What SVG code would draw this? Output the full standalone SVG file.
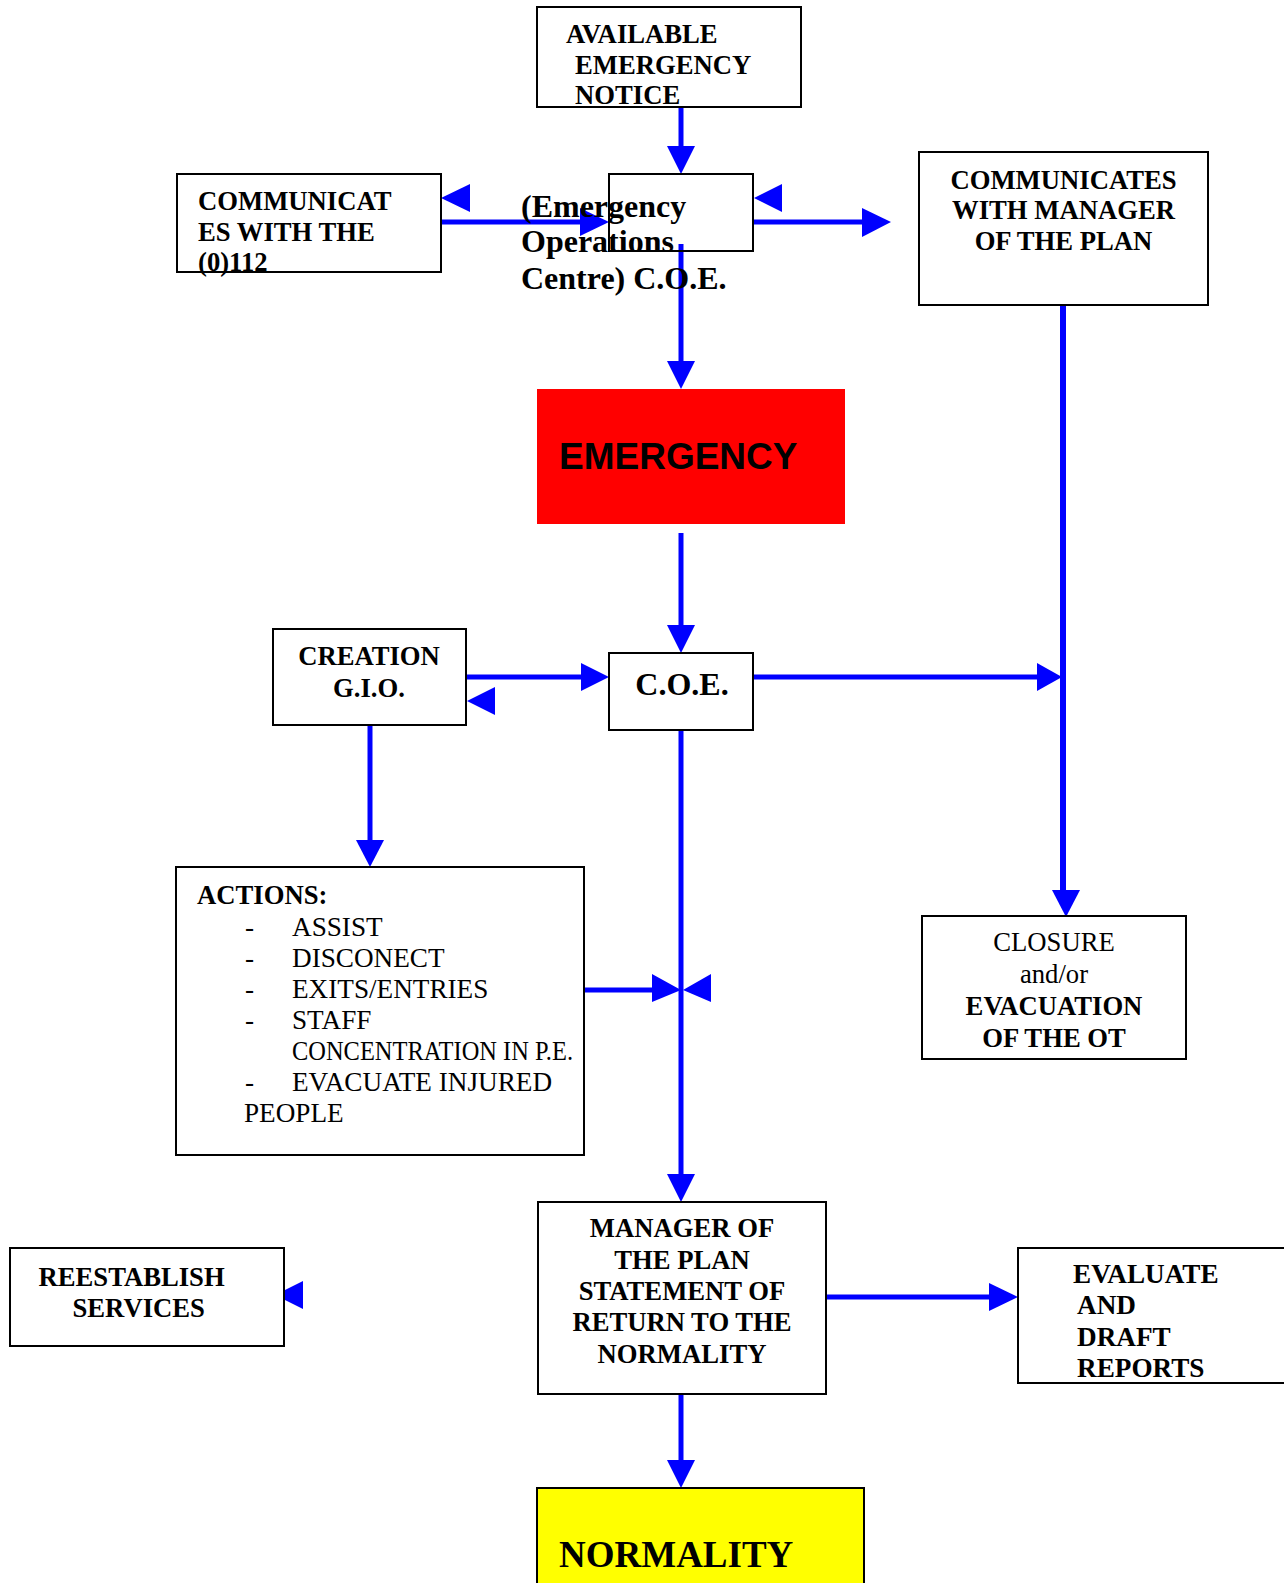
<svg xmlns="http://www.w3.org/2000/svg" width="1284" height="1583" viewBox="0 0 1284 1583">
<style>
.box{fill:#fff;stroke:#000;stroke-width:2}
.t{font-family:"Liberation Serif","Times New Roman",serif;font-size:26.67px;fill:#000}
.r{font-size:27.2px}
.b{font-weight:bold}
.ln{stroke:#0000ff;stroke-width:5;fill:none}
.ah{fill:#0000ff}
</style>
<rect width="1284" height="1583" fill="#fff"/>
<g id="connectors">
<line class="ln" x1="681" y1="104" x2="681" y2="148"/>
<polygon class="ah" points="667,146 695,146 681,174"/>
<line class="ln" x1="441" y1="222" x2="583" y2="222"/>
<polygon class="ah" points="580,208 580,236 609,222"/>
<polygon class="ah" points="470,184 470,212 441,198"/>
<polygon class="ah" points="782,184 782,212 754,198"/>
<line class="ln" x1="753" y1="222" x2="865" y2="222"/>
<polygon class="ah" points="862,208 862,237 891,222"/>
<line class="ln" x1="681" y1="244" x2="681" y2="363"/>
<polygon class="ah" points="667,361 695,361 681,389"/>
<line class="ln" x1="681" y1="533" x2="681" y2="627"/>
<polygon class="ah" points="667,625 695,625 681,653"/>
<line class="ln" x1="466" y1="677" x2="583" y2="677"/>
<polygon class="ah" points="581,663 581,691 609,677"/>
<polygon class="ah" points="495,687 495,715 467,701"/>
<line class="ln" x1="753" y1="677" x2="1040" y2="677"/>
<polygon class="ah" points="1037,663 1037,691 1062,677"/>
<line class="ln" x1="1063" y1="305" x2="1063" y2="892" style="stroke-width:6"/>
<polygon class="ah" points="1052,890 1080,890 1066,917"/>
<line class="ln" x1="370" y1="725" x2="370" y2="842"/>
<polygon class="ah" points="356,840 384,840 370,867"/>
<line class="ln" x1="681" y1="730" x2="681" y2="1176"/>
<polygon class="ah" points="667,1174 695,1174 681,1202"/>
<line class="ln" x1="584" y1="990" x2="654" y2="990"/>
<polygon class="ah" points="652,974 652,1002 681,990"/>
<polygon class="ah" points="711,974 711,1002 683,990"/>
<polygon class="ah" points="303,1281 303,1309 275,1295"/>
<line class="ln" x1="826" y1="1297" x2="992" y2="1297"/>
<polygon class="ah" points="989,1283 989,1311 1018,1297"/>
<line class="ln" x1="681" y1="1394" x2="681" y2="1462"/>
<polygon class="ah" points="667,1460 695,1460 681,1488"/>
</g>
<g id="available">
<rect class="box" x="537" y="7" width="264" height="100"/>
<text class="t b" x="566" y="43">AVAILABLE</text>
<text class="t b" x="575" y="74">EMERGENCY</text>
<text class="t b" x="575" y="104">NOTICE</text>
</g>
<g id="communicat112">
<rect class="box" x="177" y="174" width="264" height="98"/>
<text class="t b" x="198" y="210">COMMUNICAT</text>
<text class="t b" x="198" y="241">ES WITH THE</text>
<text class="t b" x="198" y="271">(0)112</text>
</g>
<g id="coe-top">
<rect class="box" x="609" y="174" width="144" height="77" style="fill:none"/>
<text class="t b" x="521" y="217" style="font-size:32px">(Emergency</text>
<text class="t b" x="521" y="252" style="font-size:32px">Operations</text>
<text class="t b" x="521" y="289" style="font-size:32px">Centre) C.O.E.</text>
</g>
<g id="communicates-manager">
<rect class="box" x="919" y="152" width="289" height="153"/>
<text class="t b" x="1063.5" y="189" text-anchor="middle">COMMUNICATES</text>
<text class="t b" x="1063.5" y="219" text-anchor="middle">WITH MANAGER</text>
<text class="t b" x="1063.5" y="250" text-anchor="middle">OF THE PLAN</text>
</g>
<g id="emergency">
<rect x="537" y="389" width="308" height="135" fill="#ff0000"/>
<text x="559" y="469" style="font-family:'Liberation Sans',Arial,sans-serif;font-weight:bold;font-size:37px;fill:#000">EMERGENCY</text>
</g>
<g id="creation-gio">
<rect class="box" x="273" y="629" width="193" height="96"/>
<text class="t b" x="369" y="665" text-anchor="middle">CREATION</text>
<text class="t b" x="369" y="697" text-anchor="middle">G.I.O.</text>
</g>
<g id="coe">
<rect class="box" x="609" y="653" width="144" height="77"/>
<text class="t b" x="682" y="695" text-anchor="middle" style="font-size:32px">C.O.E.</text>
</g>
<g id="actions">
<rect class="box" x="176" y="867" width="408" height="288"/>
<text class="t b" x="197" y="904">ACTIONS:</text>
<text class="t r" x="245" y="936">-</text><text class="t r" x="292" y="936">ASSIST</text>
<text class="t r" x="245" y="967">-</text><text class="t r" x="292" y="967">DISCONECT</text>
<text class="t r" x="245" y="998">-</text><text class="t r" x="292" y="998">EXITS/ENTRIES</text>
<text class="t r" x="245" y="1029">-</text><text class="t r" x="292" y="1029">STAFF</text>
<text class="t r" x="292" y="1060" textLength="281" lengthAdjust="spacingAndGlyphs">CONCENTRATION IN P.E.</text>
<text class="t r" x="245" y="1091">-</text><text class="t r" x="292" y="1091">EVACUATE INJURED</text>
<text class="t r" x="244" y="1122">PEOPLE</text>
</g>
<g id="closure">
<rect class="box" x="922" y="916" width="264" height="143"/>
<text class="t" x="1054" y="951" text-anchor="middle">CLOSURE</text>
<text class="t" x="1054" y="983" text-anchor="middle">and/or</text>
<text class="t b" x="1054" y="1015" text-anchor="middle">EVACUATION</text>
<text class="t b" x="1054" y="1047" text-anchor="middle">OF THE OT</text>
</g>
<g id="reestablish">
<rect class="box" x="10" y="1248" width="274" height="98"/>
<text class="t b" x="38.5" y="1286">REESTABLISH</text>
<text class="t b" x="72.5" y="1317">SERVICES</text>
</g>
<g id="manager">
<rect class="box" x="538" y="1202" width="288" height="192"/>
<text class="t b" x="682" y="1237" text-anchor="middle">MANAGER OF</text>
<text class="t b" x="682" y="1269" text-anchor="middle">THE PLAN</text>
<text class="t b" x="682" y="1300" text-anchor="middle">STATEMENT OF</text>
<text class="t b" x="682" y="1331" text-anchor="middle">RETURN TO THE</text>
<text class="t b" x="682" y="1363" text-anchor="middle">NORMALITY</text>
</g>
<g id="evaluate">
<rect class="box" x="1018" y="1248" width="280" height="135"/>
<text class="t b" x="1073" y="1283" style="font-size:27.2px">EVALUATE</text>
<text class="t b" x="1077" y="1314" style="font-size:27.2px">AND</text>
<text class="t b" x="1077" y="1346" style="font-size:27.2px">DRAFT</text>
<text class="t b" x="1077" y="1377" style="font-size:27.2px">REPORTS</text>
</g>
<g id="normality">
<rect x="537" y="1488" width="327" height="110" fill="#ffff00" stroke="#000" stroke-width="2"/>
<text class="t b" x="559" y="1567" style="font-size:37px">NORMALITY</text>
</g>
</svg>
